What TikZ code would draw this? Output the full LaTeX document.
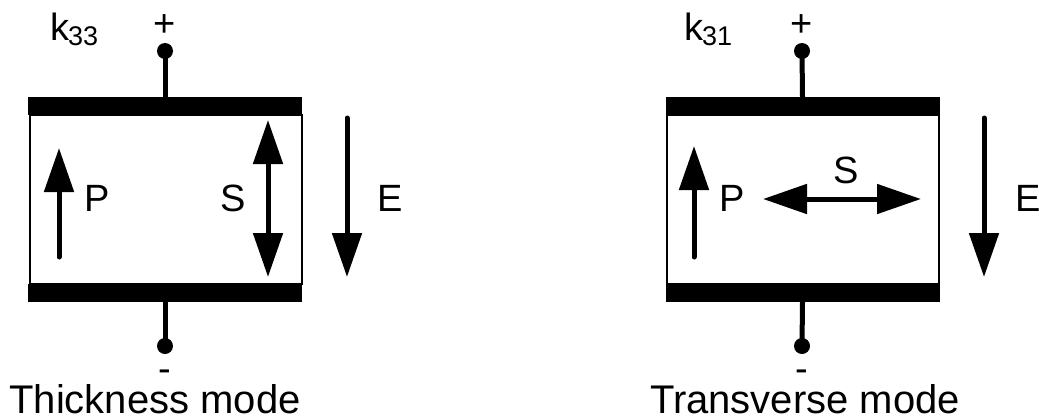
\documentclass[tikz,border=0pt]{standalone}
\usepackage{fontspec}
\setmainfont{Liberation Sans}
\usetikzlibrary{arrows.meta}
\begin{document}
\begin{tikzpicture}[x=1pt,y=-1pt,
  plate/.style={fill=black,draw=none,minimum width=274pt,minimum height=18pt,inner sep=0pt,outer sep=0pt},
  body/.style={draw=black,line width=2pt,fill=white,minimum width=272pt,minimum height=169pt,inner sep=0pt,outer sep=0pt},
  term/.style={circle,fill=black,minimum size=16pt,inner sep=0pt,outer sep=0pt},
  wire/.style={line width=5pt},
  vec/.style={line width=5pt,line cap=round,-{Triangle[length=44pt,width=29pt]}},
  dvec/.style={line width=5pt,{Triangle[length=44pt,width=29pt]}-{Triangle[length=44pt,width=29pt]}},
  lbl/.style={font=\fontsize{38pt}{38pt}\selectfont,inner sep=0pt,anchor=base},
  modetext/.style={font=\fontsize{40pt}{40pt}\selectfont,inner sep=0pt,anchor=base},
  klbl/.style={font=\fontsize{38pt}{38pt}\selectfont,inner sep=0pt,anchor=base west},
]
\useasboundingbox (0,0) rectangle (1039,418);
\newcommand\subidx[1]{{\fontsize{27pt}{27pt}\selectfont\raisebox{-5pt}{#1}}}

% ---------- thickness mode (k33) ----------
\node[body] (bodyL) at (165.5,199.5) {};
\node[plate] (topL) at (165,106) {};
\node[plate] (botL) at (165,293) {};
\node[term] (posL) at (165,51) {};
\node[term] (negL) at (165,346) {};
\draw[wire] (posL.center) -- (topL.north);
\draw[wire] (botL.south) -- (negL.center);
\node[lbl] (plusL) at (165,36) {+};
\node[lbl] (minusL) at (165,381) {-};
\node[klbl] (kL) at (50,40) {k\kern-1pt\subidx{33}};

\coordinate (pL0) at (59,257);
\coordinate (pL1) at (59,148);
\draw[vec] (pL0) -- (pL1);
\node[lbl] (PL) at (97,211) {P};

\coordinate (sL0) at (268,120);
\coordinate (sL1) at (268,277);
\draw[dvec] (sL0) -- (sL1);
\node[lbl] (SL) at (233,211) {S};

\coordinate (eL0) at (347,118);
\coordinate (eL1) at (347,277);
\draw[vec] (eL0) -- (eL1);
\node[lbl] (EL) at (390,211) {E};

\node[modetext] (capL) at (155,413) {Thickness mode};

% ---------- transverse mode (k31) ----------
\node[body] (bodyR) at (802.5,199.5) {};
\node[plate] (topR) at (802.5,106) {};
\node[plate] (botR) at (802.5,293) {};
\node[term] (posR) at (802,51) {};
\node[term] (negR) at (802,346) {};
\draw[wire] (posR.center) -- (topR.north);
\draw[wire] (botR.south) -- (negR.center);
\node[lbl] (plusR) at (802,36) {+};
\node[lbl] (minusR) at (802,381) {-};
\node[klbl] (kR) at (684,40) {k\kern-1pt\subidx{31}};

\coordinate (pR0) at (694,257);
\coordinate (pR1) at (694,146);
\draw[vec] (pR0) -- (pR1);
\node[lbl] (PR) at (732,211) {P};

\coordinate (sR0) at (763,199);
\coordinate (sR1) at (921,199);
\draw[dvec] (sR0) -- (sR1);
\node[lbl] (SR) at (846,183) {S};

\coordinate (eR0) at (984,118);
\coordinate (eR1) at (984,277);
\draw[vec] (eR0) -- (eR1);
\node[lbl] (ER) at (1028,211) {E};

\node[modetext] (capR) at (805,413) {Transverse mode};
\end{tikzpicture}
\end{document}
